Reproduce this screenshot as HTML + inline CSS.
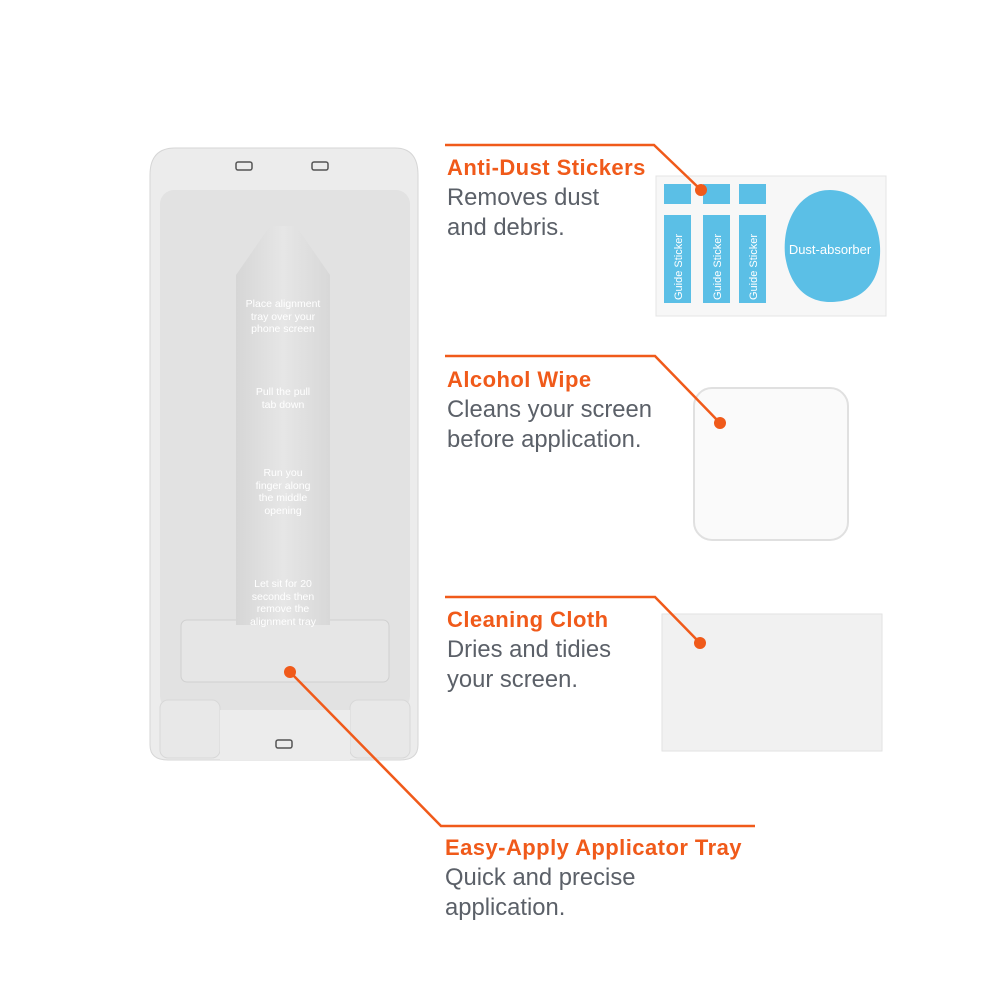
<!DOCTYPE html><html><head><style>
body{margin:0;width:1000px;height:1000px;background:#fff;position:relative;overflow:hidden;font-family:"Liberation Sans",sans-serif}
.t{position:absolute;font-size:23.8px;line-height:30px;color:#5b6068}
.t b{color:#f05a1a;font-weight:bold;font-size:22px;letter-spacing:0.45px;display:block}
.tt{position:absolute;color:#fff;font-size:10.5px;line-height:12.5px;text-align:center;width:100px;left:233px}
</style></head><body>
<svg width="1000" height="1000" style="position:absolute;left:0;top:0">
<defs><linearGradient id="g" x1="0" x2="1"><stop offset="0" stop-color="#d6d6d6"/><stop offset="0.5" stop-color="#e6e6e6"/><stop offset="1" stop-color="#d8d8d8"/></linearGradient></defs>
<path d="M175 148 H395 Q418 148 418 175 V745 Q418 760 400 760 H168 Q150 760 150 745 V175 Q150 148 175 148Z" fill="#ececec" stroke="#d6d6d6"/>
<rect x="160" y="190" width="250" height="520" rx="14" fill="#e2e2e2"/>
<rect x="181" y="620" width="208" height="62" rx="6" fill="#e6e6e6" stroke="#d0d0d0"/>
<path d="M236 275 L270 226 H296 L330 275 V625 H236Z" fill="url(#g)"/>
<rect x="160" y="700" width="60" height="58" rx="8" fill="#e8e8e8" stroke="#d8d8d8"/>
<rect x="350" y="700" width="60" height="58" rx="8" fill="#e8e8e8" stroke="#d8d8d8"/>
<rect x="220" y="710" width="130" height="50" fill="#ececec"/>
<rect x="236" y="162" width="16" height="8" rx="2" fill="none" stroke="#555" stroke-width="1.5"/>
<rect x="312" y="162" width="16" height="8" rx="2" fill="none" stroke="#555" stroke-width="1.5"/>
<rect x="276" y="740" width="16" height="8" rx="2" fill="none" stroke="#555" stroke-width="1.5"/>
<rect x="656" y="176" width="230" height="140" fill="#f7f7f7" stroke="#e4e4e4"/>
<g fill="#5bbfe6"><rect x="664" y="184" width="27" height="20"/><rect x="703" y="184" width="27" height="20"/><rect x="739" y="184" width="27" height="20"/>
<rect x="664" y="215" width="27" height="88"/><rect x="703" y="215" width="27" height="88"/><rect x="739" y="215" width="27" height="88"/>
<path d="M830 190 C800 190 782 220 785 255 C790 290 810 302 830 302 C855 302 878 290 880 255 C882 220 860 190 830 190Z"/></g>
<text x="830" y="254" font-size="13" fill="#fff" text-anchor="middle" font-family="Liberation Sans">Dust-absorber</text>
<g font-size="11" fill="#fff" font-family="Liberation Sans"><text transform="translate(682 300) rotate(-90)">Guide Sticker</text><text transform="translate(721 300) rotate(-90)">Guide Sticker</text><text transform="translate(757 300) rotate(-90)">Guide Sticker</text></g>
<rect x="694" y="388" width="154" height="152" rx="18" fill="#fafafa" stroke="#e0e0e0" stroke-width="2"/>
<rect x="662" y="614" width="220" height="137" fill="#f1f1f1" stroke="#e2e2e2"/>
<g stroke="#f05a1a" stroke-width="2.5" fill="none">
<polyline points="445,145 654,145 701,190"/><polyline points="445,356 655,356 720,423"/><polyline points="445,597 655,597 700,643"/><polyline points="290,672 441,826 755,826"/></g>
<g fill="#f05a1a"><circle cx="701" cy="190" r="6"/><circle cx="720" cy="423" r="6"/><circle cx="700" cy="643" r="6"/><circle cx="290" cy="672" r="6"/></g>
</svg>
<div class="tt" style="top:298px">Place alignment<br>tray over your<br>phone screen</div>
<div class="tt" style="top:386px">Pull the pull<br>tab down</div>
<div class="tt" style="top:467px">Run you<br>finger along<br>the middle<br>opening</div>
<div class="tt" style="top:578px">Let sit for 20<br>seconds then<br>remove the<br>alignment tray</div>
<div class="t" style="left:447px;top:153px"><b>Anti-Dust Stickers</b>Removes dust<br>and debris.</div>
<div class="t" style="left:447px;top:365px"><b>Alcohol Wipe</b>Cleans your screen<br>before application.</div>
<div class="t" style="left:447px;top:605px"><b>Cleaning Cloth</b>Dries and tidies<br>your screen.</div>
<div class="t" style="left:445px;top:833px"><b>Easy-Apply Applicator Tray</b>Quick and precise<br>application.</div>
</body></html>
